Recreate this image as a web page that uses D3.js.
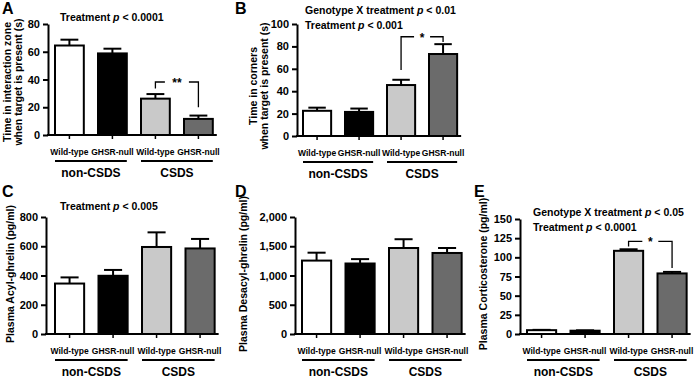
<!DOCTYPE html>
<html>
<head>
<meta charset="utf-8">
<script src="https://cdn.jsdelivr.net/npm/d3@7"></script>
<style>
  html, body { margin: 0; padding: 0; background: #fff; }
  svg { display: block; font-family: "Liberation Sans", Arial, sans-serif; font-weight: bold; }
</style>
</head>
<body>
<svg id="chart" width="700" height="378"></svg>
<script>
// ---------- data ----------
const categories = ["Wild-type", "GHSR-null", "Wild-type", "GHSR-null"];
const groups = ["non-CSDS", "CSDS"];
const barColors = ["#ffffff", "#000000", "#c9c9c9", "#6b6b6b"];

const valuesA = [64.5, 58.8, 26.2, 11.6];
const errorsA = [4.2, 3.4, 3.3, 2.4];
const ticksA = [0, 20, 40, 60, 80];

const valuesB = [22.5, 21.5, 45.5, 73.2];
const errorsB = [2.8, 3.0, 4.7, 8.8];
const ticksB = [0, 20, 40, 60, 80, 100];

const valuesC = [345, 398, 595, 585];
const errorsC = [42, 40, 100, 65];
const ticksC = [0, 200, 400, 600, 800];

const valuesD = [1255, 1205, 1470, 1385];
const errorsD = [135, 75, 150, 85];
const ticksD = [0, 500, 1000, 1500, 2000];

const valuesE = [5.0, 4.3, 108.5, 79.0];
const errorsE = [0.4, 0.5, 2.0, 2.0];
const ticksE = [0, 25, 50, 75, 100, 125, 150];

const yLabelsA = ["Time in interaction zone", "when target is present (s)"];
const yLabelsB = ["Time in corners", "when target is present (s)"];
const yLabelsC = ["Plasma Acyl-ghrelin (pg/ml)"];
const yLabelsD = ["Plasma Desacyl-ghrelin (pg/ml)"];
const yLabelsE = ["Plasma Corticosterone (pg/ml)"];

const statsA = [["Treatment ", "p", " < 0.0001"]];
const statsB = [["Genotype X treatment ", "p", " < 0.01"], ["Treatment ", "p", " < 0.001"]];
const statsC = [["Treatment ", "p", " < 0.005"]];
const statsD = [];
const statsE = [["Genotype X treatment ", "p", " < 0.05"], ["Treatment ", "p", " < 0.0001"]];

// significance brackets: [fromBar, toBar, levelValue, leftEndValue, rightEndValue, label]
const sigA = [[2, 3, 38.2, 33.5, 20, "**"]];
const sigB = [[2, 3, 88.6, 59, 84, "*"]];
const sigE = [[2, 3, 120.7, 114, 86, "*"]];

// ---------- layout ----------
const panels = [
  { letter: "A", lx: 2, ly: 14, axis: 48, gap: 7, step: 43, yTop: 24, yBase: 135,
    values: valuesA, errors: errorsA, ticks: ticksA, ylab: yLabelsA, ylx: 11, yly: 82,
    stats: statsA, sx: 60, sy: 21, sig: sigA },
  { letter: "B", lx: 235, ly: 14, axis: 297, gap: 6, step: 42, yTop: 24, yBase: 136,
    values: valuesB, errors: errorsB, ticks: ticksB, ylab: yLabelsB, ylx: 257, yly: 86,
    stats: statsB, sx: 305, sy: 14, sig: sigB },
  { letter: "C", lx: 2, ly: 197, axis: 46, gap: 9, step: 43.5, yTop: 217, yBase: 334,
    values: valuesC, errors: errorsC, ticks: ticksC, ylab: yLabelsC, ylx: 14, yly: 274,
    stats: statsC, sx: 60, sy: 210, sig: [] },
  { letter: "D", lx: 235, ly: 197, axis: 295, gap: 7, step: 43.5, yTop: 217, yBase: 334,
    values: valuesD, errors: errorsD, ticks: ticksD, ylab: yLabelsD, ylx: 247, yly: 274,
    stats: statsD, sx: 305, sy: 210, sig: [] },
  { letter: "E", lx: 474, ly: 197, axis: 520, gap: 7, step: 43.5, yTop: 219, yBase: 334,
    values: valuesE, errors: errorsE, ticks: ticksE, ylab: yLabelsE, ylx: 487, yly: 274,
    stats: statsE, sx: 533, sy: 216, sig: sigE }
];

const svg = d3.select("#chart");
const fmt = d3.format(",");

panels.forEach(p => {
  const g = svg.append("g");
  const pi = 0.33;
  const W = p.step * (4 - pi);
  const x = d3.scaleBand().domain(d3.range(4))
    .range([p.axis + p.gap, p.axis + p.gap + W]).paddingInner(pi).paddingOuter(0);
  const y = d3.scaleLinear().domain([0, d3.max(p.ticks)]).range([p.yBase, p.yTop]);
  const bw = x.bandwidth();

  // panel letter
  g.append("text").attr("x", p.lx).attr("y", p.ly)
    .attr("font-size", 16).attr("font-weight", "bold").text(p.letter);

  // bars
  g.selectAll("rect.bar").data(p.values).join("rect")
    .attr("class", "bar")
    .attr("x", (d, i) => x(i))
    .attr("y", d => y(d))
    .attr("width", bw)
    .attr("height", d => y(0) - y(d))
    .attr("fill", (d, i) => barColors[i])
    .attr("stroke", "#000").attr("stroke-width", 2);

  // error bars (upper only)
  const capW = bw * 0.62;
  p.values.forEach((v, i) => {
    const cx = x(i) + bw / 2;
    g.append("line").attr("x1", cx).attr("x2", cx)
      .attr("y1", y(v)).attr("y2", y(v + p.errors[i]))
      .attr("stroke", "#000").attr("stroke-width", 2);
    g.append("line").attr("x1", cx - capW / 2).attr("x2", cx + capW / 2)
      .attr("y1", y(v + p.errors[i])).attr("y2", y(v + p.errors[i]))
      .attr("stroke", "#000").attr("stroke-width", 2);
  });

  // y axis
  const ya = d3.axisLeft(y).tickValues(p.ticks).tickSize(5).tickSizeOuter(0).tickPadding(3)
    .tickFormat(fmt);
  const yg = g.append("g").attr("transform", `translate(${p.axis},0)`).call(ya);
  yg.selectAll("path, line").attr("stroke", "#000").attr("stroke-width", 2);
  yg.selectAll("text").attr("font-size", 11).attr("font-weight", "bold")
    .attr("font-family", "Liberation Sans, Arial, sans-serif").attr("fill", "#000");

  // x axis
  const xEnd = p.axis + p.gap + W + 4;
  g.append("line").attr("x1", p.axis - 1).attr("x2", xEnd)
    .attr("y1", p.yBase).attr("y2", p.yBase)
    .attr("stroke", "#000").attr("stroke-width", 2);
  const xa = d3.axisBottom(x).tickSize(4).tickSizeOuter(0).tickPadding(10)
    .tickFormat(i => categories[i]);
  const xg = g.append("g").attr("transform", `translate(0,${p.yBase})`).call(xa);
  xg.select(".domain").remove();
  xg.selectAll("line").attr("stroke", "#000").attr("stroke-width", 1.5);
  xg.selectAll("text").attr("font-size", 8.5).attr("font-weight", "bold")
    .attr("font-family", "Liberation Sans, Arial, sans-serif").attr("fill", "#000");

  // group underlines and labels
  groups.forEach((gr, k) => {
    const x0 = x(2 * k), x1 = x(2 * k + 1) + bw;
    g.append("line").attr("x1", x0).attr("x2", x1)
      .attr("y1", p.yBase + 26).attr("y2", p.yBase + 26)
      .attr("stroke", "#000").attr("stroke-width", 1.8);
    g.append("text").attr("x", (x0 + x1) / 2).attr("y", p.yBase + 42)
      .attr("text-anchor", "middle").attr("font-size", 12).text(gr);
  });

  // y label
  p.ylab.forEach((t, k) => {
    const lx = p.ylx + k * 10.5;
    g.append("text").attr("transform", `translate(${lx},${p.yly}) rotate(-90)`)
      .attr("text-anchor", "middle").attr("font-size", 10.5).text(t);
  });

  // stats text
  p.stats.forEach((parts, k) => {
    const t = g.append("text").attr("x", p.sx).attr("y", p.sy + k * 14.5).attr("font-size", 10.5);
    t.append("tspan").text(parts[0]);
    t.append("tspan").attr("font-style", "italic").text(parts[1]);
    t.append("tspan").text(parts[2]);
  });

  // significance brackets
  p.sig.forEach(s => {
    const xl = x(s[0]) + bw / 2, xr = x(s[1]) + bw / 2;
    const yl = y(s[2]);
    const mid = (xl + xr) / 2;
    const half = s[5].length * 4 + 4;
    const path = d3.path();
    path.moveTo(xl, y(s[3])); path.lineTo(xl, yl); path.lineTo(mid - half, yl);
    path.moveTo(mid + half, yl); path.lineTo(xr, yl); path.lineTo(xr, y(s[4]));
    g.append("path").attr("d", path.toString()).attr("fill", "none")
      .attr("stroke", "#000").attr("stroke-width", 1.3);
    g.append("text").attr("x", mid).attr("y", yl + 5).attr("text-anchor", "middle")
      .attr("font-size", 12).text(s[5]);
  });
});
</script>
</body>
</html>
